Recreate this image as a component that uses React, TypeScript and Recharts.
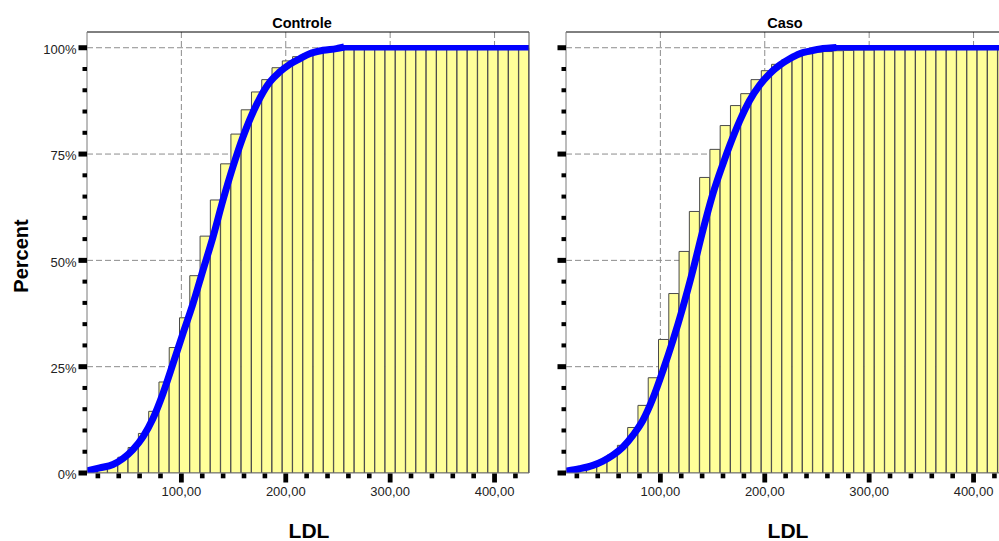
import React from 'react';
import { ComposedChart, Bar, Line, XAxis, YAxis, CartesianGrid, ReferenceLine } from 'recharts';

// Bin lower edges (LDL) for the cumulative histogram bars
const binStarts = [10, 21, 31, 40, 50, 60, 70, 79, 89, 99, 109, 119, 128, 138, 148, 158, 168, 177, 187, 197, 207, 217, 226, 236, 246, 256, 266, 275, 285, 295, 305, 315, 324, 334, 344, 354, 364, 373, 383, 393, 403, 413, 422];

// Cumulative percent per bin
const controleCum = [0.3, 0.8, 1.9, 3.7, 6.0, 9.3, 14.5, 21.4, 29.5, 36.5, 46.4, 55.7, 64.2, 72.7, 79.7, 85.4, 89.6, 92.5, 95.3, 96.9, 97.9, 98.6, 99.0, 99.2, 99.5, 99.6, 99.7, 99.7, 99.7, 99.7, 99.8, 99.8, 99.8, 99.8, 99.8, 99.8, 99.9, 99.9, 99.9, 99.9, 99.9, 100, 100];
const casoCum = [0.3, 0.8, 1.8, 2.8, 4.2, 6.5, 10.7, 15.9, 22.4, 31.4, 42.2, 52.1, 61.5, 69.5, 76.1, 81.7, 86.4, 89.2, 92.5, 94.6, 96.1, 97.2, 97.9, 98.6, 99.0, 99.1, 99.3, 99.4, 99.5, 99.5, 99.6, 99.6, 99.7, 99.7, 99.8, 99.8, 99.8, 99.9, 99.9, 99.9, 100, 100, 100];

// Normal curve (blue)
const controleCurveLdl = [9.6, 21.7, 34.5, 44.1, 53.6, 63.2, 72.8, 82.4, 92.0, 101.5, 111.1, 120.7, 130.3, 139.8, 149.4, 159.0, 171.8, 184.6, 194.2, 203.7, 213.3, 222.9, 235.6, 248.5, 252.6];
const controleCurvePct = [0.5, 1.2, 2.0, 3.4, 5.5, 8.5, 12.8, 18.7, 25.7, 32.8, 39.8, 47.7, 55.5, 64.1, 72.0, 79.0, 86.5, 91.9, 94.3, 96.1, 97.4, 98.6, 99.4, 99.8, 100];
const casoCurveLdl = [10.5, 22.7, 35.4, 45.0, 54.6, 64.2, 73.8, 83.3, 92.9, 102.5, 112.1, 121.6, 131.2, 140.8, 150.4, 160.0, 166.4, 176.0, 185.5, 195.1, 204.7, 214.3, 223.9, 233.4, 243.0, 255.7, 265.3];
const casoCurvePct = [0.5, 1.0, 1.8, 2.8, 4.2, 6.1, 8.9, 12.4, 17.6, 24.1, 31.2, 39.0, 47.7, 57.1, 65.7, 72.7, 77.0, 82.8, 87.6, 91.2, 93.9, 95.9, 97.4, 98.6, 99.2, 99.8, 100];

const xTicks = [20, 40, 60, 80, 100, 120, 140, 160, 180, 200, 220, 240, 260, 280, 300, 320, 340, 360, 380, 400, 420];
const xLabelTicks = [100, 200, 300, 400];
const yTicks = [0, 5, 10, 15, 20, 25, 30, 35, 40, 45, 50, 55, 60, 65, 70, 75, 80, 85, 90, 95, 100];
const yLabelTicks = [0, 25, 50, 75, 100];
const X_DOMAIN: [number, number] = [9.6, 433];
const Y_DOMAIN: [number, number] = [0, 103.7];

const FONT = '"Liberation Sans", Arial, Helvetica, sans-serif';

const YTick = (props: any) => {
  const { x, y, payload, showLabel } = props;
  const v = payload.value;
  const major = yLabelTicks.includes(v);
  return (
    <g>
      {major ? (
        <rect x={x - 8.5} y={y - 2.5} width={8.5} height={5} fill="#000" />
      ) : (
        <rect x={x - 4.5} y={y - 2} width={4.5} height={4} fill="#000" />
      )}
      {major && showLabel && (
        <text x={x - 10.5} y={y + 6.3} textAnchor="end" fontSize={13} fontFamily={FONT} fill="#222">
          {v}%
        </text>
      )}
    </g>
  );
};

const XTick = (props: any) => {
  const { x, y, payload } = props;
  const v = payload.value;
  const major = xLabelTicks.includes(v);
  return (
    <g>
      {major ? (
        <rect x={x - 2.4} y={y + 0.5} width={4.8} height={9} fill="#000" />
      ) : (
        <rect x={x - 2.3} y={y + 0.5} width={4.6} height={4.8} fill="#000" />
      )}
      {major && (
        <text x={x} y={y + 23} textAnchor="middle" fontSize={13} fontFamily={FONT} fill="#222">
          {v.toFixed(2).replace('.', ',')}
        </text>
      )}
    </g>
  );
};

function Panel({ cum, curveLdl, curvePct, showYLabels, left }: any) {
  const data = binStarts.map((b, i) => ({ bin: String(b), pct: cum[i] }));
  const curve = curveLdl.map((l: number, i: number) => ({ ldl: l, pct: curvePct[i] }));
  const plateau = [
    { ldl: curveLdl[curveLdl.length - 1], pct: 100 },
    { ldl: X_DOMAIN[1], pct: 100 },
  ];
  return (
    <div style={{ position: 'absolute', left, top: 0 }}>
      <ComposedChart
        width={560}
        height={541}
        data={data}
        margin={{ top: 32, right: 31, bottom: 38, left: 0 }}
        barCategoryGap={0}
        barGap={0}
      >
        <XAxis xAxisId="cat" dataKey="bin" type="category" orientation="top" height={0} hide />
        <XAxis
          xAxisId="num"
          dataKey="ldl"
          type="number"
          domain={X_DOMAIN}
          allowDataOverflow
          ticks={xTicks}
          interval={0}
          tickLine={false}
          tickSize={0}
          tickMargin={0}
          axisLine={{ stroke: '#7a7a7a' }}
          height={30}
          tick={(p: any) => <XTick {...p} />}
        />
        <YAxis
          type="number"
          domain={Y_DOMAIN}
          allowDataOverflow
          ticks={yTicks}
          interval={0}
          tickLine={false}
          tickSize={0}
          tickMargin={0}
          axisLine={{ stroke: '#7a7a7a' }}
          width={87}
          tick={(p: any) => <YTick {...p} showLabel={showYLabels} />}
        />
        <CartesianGrid
          xAxisId="num"
          horizontalValues={[25, 50, 75, 100]}
          verticalValues={[100, 200, 300, 400]}
          stroke="#8c8c8c"
          strokeDasharray="6 3"
        />
        <Bar xAxisId="cat" dataKey="pct" fill="#FFFF99" stroke="#4a4a4a" strokeWidth={1} isAnimationActive={false} />
        <Line
          xAxisId="num"
          type="monotone"
          data={curve}
          dataKey="pct"
          stroke="#0000ff"
          strokeWidth={7}
          strokeLinecap="square"
          dot={false}
          activeDot={false}
          isAnimationActive={false}
        />
        <Line
          xAxisId="num"
          data={plateau}
          dataKey="pct"
          stroke="#0000ff"
          strokeWidth={5.5}
          strokeLinecap="square"
          dot={false}
          activeDot={false}
          isAnimationActive={false}
        />
        <ReferenceLine xAxisId="num" y={Y_DOMAIN[1]} stroke="#000" strokeWidth={1} />
        <ReferenceLine xAxisId="num" x={X_DOMAIN[1]} stroke="#555" strokeWidth={1} />
      </ComposedChart>
    </div>
  );
}

export default function App() {
  return (
    <div style={{ position: 'absolute', left: 0, top: 0, width: 999, height: 541, overflow: 'hidden', background: '#fff' }}>
      <Panel cum={controleCum} curveLdl={controleCurveLdl} curvePct={controleCurvePct} showYLabels left={0} />
      <Panel cum={casoCum} curveLdl={casoCurveLdl} curvePct={casoCurvePct} showYLabels={false} left={479} />
      <svg width={999} height={541} style={{ position: 'absolute', left: 0, top: 0, pointerEvents: 'none' }}>
        <text x={302} y={28} textAnchor="middle" fontSize={14.5} fontWeight="bold" fontFamily={FONT} fill="#000">Controle</text>
        <text x={785} y={28} textAnchor="middle" fontSize={14.5} fontWeight="bold" fontFamily={FONT} fill="#000">Caso</text>
        <text x={309} y={538} textAnchor="middle" fontSize={21} fontWeight="bold" fontFamily={FONT} fill="#000">LDL</text>
        <text x={788} y={538} textAnchor="middle" fontSize={21} fontWeight="bold" fontFamily={FONT} fill="#000">LDL</text>
        <text x={28} y={256} textAnchor="middle" fontSize={20} fontWeight="bold" fontFamily={FONT} fill="#000" transform="rotate(-90 28 256)">Percent</text>
      </svg>
    </div>
  );
}
